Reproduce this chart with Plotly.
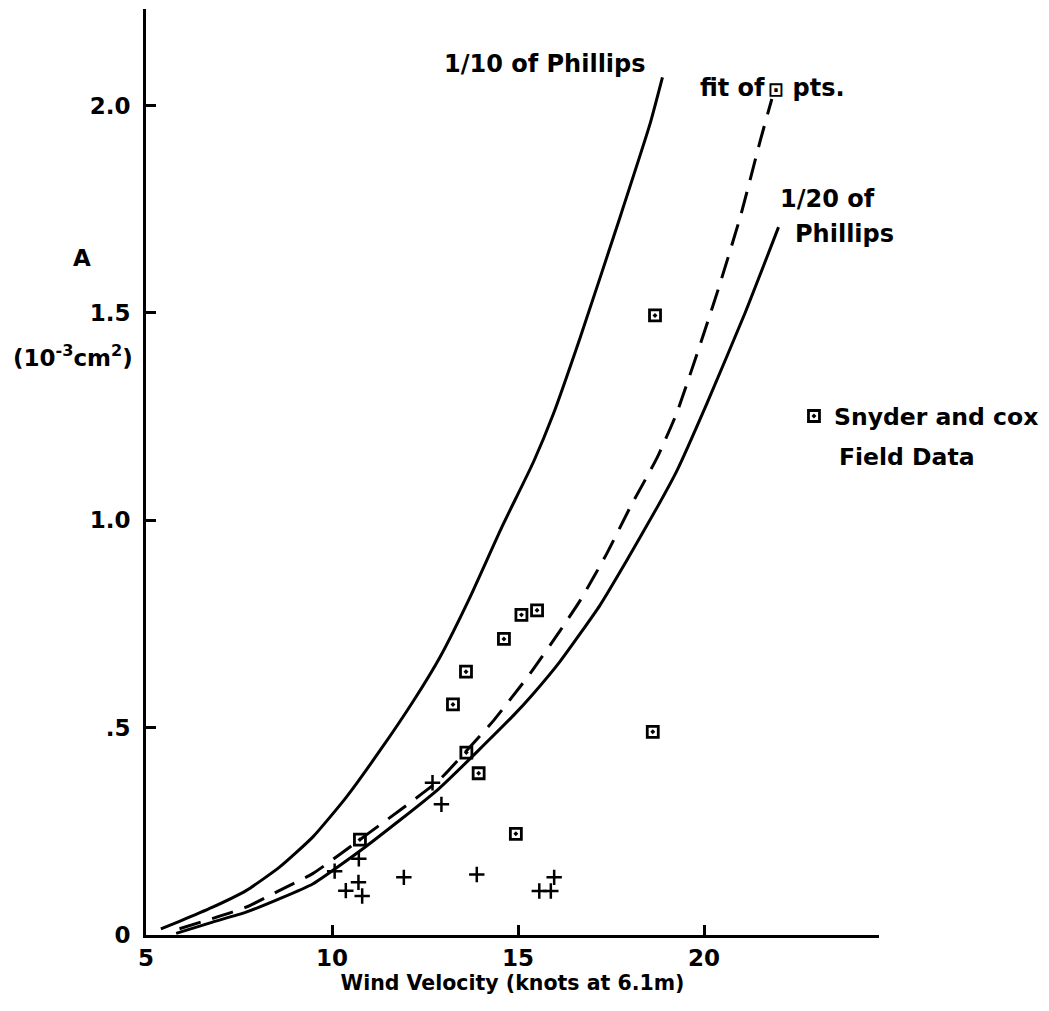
import plotly.graph_objects as go

# Wind velocity (knots at 6.1 m) vs. A (10^-3 cm^2)

# 1/10 of Phillips curve
phil10_x = [5.40, 5.90, 6.79, 7.69, 8.58, 9.48, 10.38, 11.29, 12.19, 12.90, 13.71, 14.56, 15.41, 15.95, 16.67, 17.74, 18.55, 18.88]
phil10_y = [0.015, 0.033, 0.067, 0.107, 0.163, 0.236, 0.332, 0.445, 0.565, 0.670, 0.815, 0.983, 1.140, 1.257, 1.441, 1.731, 1.957, 2.068]

# 1/20 of Phillips curve
phil20_x = [5.81, 6.79, 7.69, 8.58, 9.48, 10.83, 12.86, 14.87, 15.41, 16.13, 17.20, 17.92, 18.73, 19.27, 20.07, 21.10, 22.00]
phil20_y = [0.004, 0.031, 0.055, 0.087, 0.123, 0.208, 0.352, 0.529, 0.582, 0.660, 0.795, 0.903, 1.030, 1.120, 1.281, 1.500, 1.707]

# fit of the square points (dashed)
fit_x = [5.90, 7.69, 8.58, 9.48, 10.84, 12.86, 13.62, 14.34, 15.32, 16.13, 16.67, 17.38, 18.01, 18.73, 19.27, 20.34, 20.97, 21.51, 21.82]
fit_y = [0.015, 0.067, 0.107, 0.148, 0.236, 0.372, 0.445, 0.517, 0.630, 0.734, 0.807, 0.919, 1.031, 1.150, 1.260, 1.546, 1.731, 1.916, 2.016]

# Snyder and Cox field data (squares)
field_x = [10.75, 13.25, 13.60, 13.61, 13.94, 14.62, 14.94, 15.09, 15.51, 18.62, 18.68]
field_y = [0.230, 0.556, 0.635, 0.440, 0.390, 0.714, 0.244, 0.772, 0.783, 0.490, 1.494]

# other data (crosses)
cross_x = [10.07, 10.37, 10.71, 10.72, 10.81, 11.93, 12.70, 12.94, 13.89, 15.57, 15.88, 15.97]
cross_y = [0.154, 0.107, 0.127, 0.184, 0.094, 0.139, 0.367, 0.315, 0.146, 0.106, 0.106, 0.139]

x_ticks = [5, 10, 15, 20]
x_tick_text = ["5", "10", "15", "20"]
y_ticks = [0, 0.5, 1.0, 1.5, 2.0]
y_tick_text = ["0", ".5", "1.0", "1.5", "2.0"]

FONT = "DejaVu Sans"
INK = "black"


def font(size):
    return dict(family=FONT, size=size, color=INK, weight="bold")


fig = go.Figure()

curve_line = dict(color=INK, width=3, shape="spline", smoothing=0.5)
fig.add_trace(go.Scatter(x=phil10_x, y=phil10_y, mode="lines", showlegend=False, line=curve_line))
fig.add_trace(go.Scatter(x=phil20_x, y=phil20_y, mode="lines", showlegend=False, line=curve_line))
fig.add_trace(go.Scatter(x=fit_x, y=fit_y, mode="lines", showlegend=False,
                         line=dict(curve_line, dash="22px,12px")))
fig.add_trace(go.Scatter(x=cross_x, y=cross_y, mode="markers", showlegend=False,
                         marker=dict(symbol="cross-thin-open", size=11, color=INK,
                                     line=dict(color=INK, width=2.5))))
fig.add_trace(go.Scatter(x=field_x, y=field_y, mode="markers",
                         name="Snyder and cox", showlegend=True,
                         marker=dict(symbol="square-open-dot", size=11, color=INK,
                                     line=dict(color=INK, width=2.8))))

# curve labels and second legend line
fit_label = 'fit of<span style="font-size:19px">\u2009\u22a1</span> pts.'
labels = [
    dict(x=18.48, y=2.100, text="1/10 of Phillips", xanchor="right", size=24),
    dict(x=19.84, y=2.043, text=fit_label, xanchor="left", size=24),
    dict(x=21.99, y=1.776, text="1/20 of", xanchor="left", size=24),
    dict(x=22.39, y=1.691, text="Phillips", xanchor="left", size=24),
    dict(x=23.58, y=1.152, text="Field Data", xanchor="left", size=23.5),
]
for a in labels:
    fig.add_annotation(x=a["x"], y=a["y"], xref="x", yref="y", text=a["text"],
                       xanchor=a["xanchor"], yanchor="middle", showarrow=False,
                       font=font(a["size"]))

# y-axis label, written horizontally beside the axis
fig.add_annotation(x=-0.087, y=0.7316, xref="paper", yref="paper", text="A",
                   showarrow=False, xanchor="center", yanchor="middle", font=font(23))
fig.add_annotation(x=-0.0995, y=0.6257, xref="paper", yref="paper",
                   text="(10<sup>-3</sup>cm<sup>2</sup>)",
                   showarrow=False, xanchor="center", yanchor="middle", font=font(23))

fig.update_layout(
    width=1049, height=1011,
    margin=dict(l=146, r=170, t=9, b=76, pad=0, autoexpand=False),
    paper_bgcolor="white", plot_bgcolor="white",
    font=dict(family=FONT, color=INK),
    legend=dict(x=0.884, y=0.584, xanchor="left", yanchor="top",
                font=font(23.5), bgcolor="rgba(0,0,0,0)", borderwidth=0),
    xaxis=dict(range=[5, 24.7], showgrid=False, zeroline=False,
               showline=True, linecolor=INK, linewidth=3,
               ticks="inside", ticklen=10, tickwidth=3, tickcolor=INK,
               tickvals=x_ticks, ticktext=x_tick_text,
               tickfont=font(23),
               title=dict(text="Wind Velocity (knots at 6.1m)", font=font(20.5), standoff=6)),
    yaxis=dict(range=[0, 2.233], showgrid=False, zeroline=False,
               showline=True, linecolor=INK, linewidth=3,
               ticks="inside", ticklen=10, tickwidth=3, tickcolor=INK,
               tickvals=y_ticks, ticktext=y_tick_text,
               tickfont=font(23), ticklabelstandoff=8),
)

fig.write_html("out.html")
